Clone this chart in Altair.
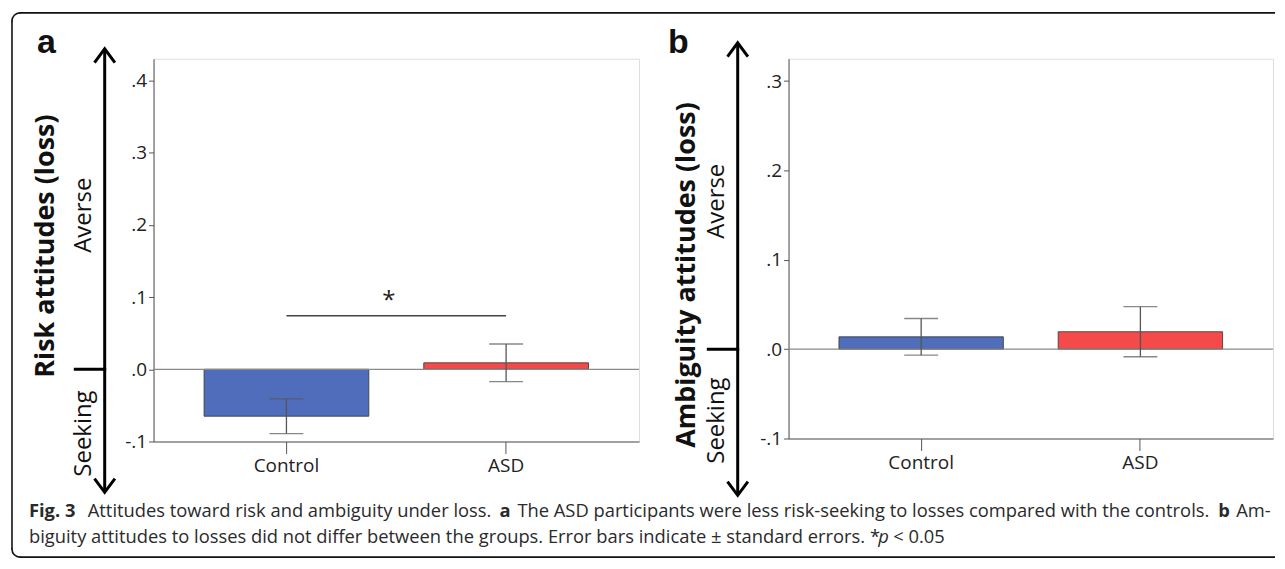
import math
import altair as alt
import pandas as pd

# ---------------- data ----------------
groups = ["Control", "ASD"]
bar_colors = ["#4F6DBA", "#F44A4A"]

risk_mean = [-0.065, 0.009]
risk_se = [0.024, 0.026]
amb_mean = [0.0138, 0.0195]
amb_se = [0.0205, 0.028]

risk_ticks = [-0.1, 0.0, 0.1, 0.2, 0.3, 0.4]
amb_ticks = [-0.1, 0.0, 0.1, 0.2, 0.3]
risk_domain = [-0.1, 0.43]
amb_domain = [-0.1, 0.325]

sig_pair = ["Control", "ASD"]
sig_y = 0.074
star_y = 0.094

y_titles = ["Risk attitudes (loss)", "Ambiguity attitudes (loss)"]
panel_letters = ["a", "b"]
averse_label = "Averse"
seeking_label = "Seeking"

caption_line1 = [
    ("Fig. 3", "bold", "normal"),
    ("Attitudes toward risk and ambiguity under loss.", "normal", "normal"),
    ("a", "bold", "normal"),
    ("The ASD participants were less risk-seeking to losses compared with the controls.", "normal", "normal"),
    ("b", "bold", "normal"),
    ("Am-", "normal", "normal"),
]
caption_line2 = [
    ("biguity attitudes to losses did not differ between the groups. Error bars indicate \u00b1 standard errors. *", "normal", "normal"),
    ("p", "normal", "italic"),
    ("< 0.05", "normal", "normal"),
]

# ---------------- layout (pixels, relative to panel a plot origin) ----------------
FONT = "Open Sans"
W_A, H_A = 487, 384
W_B, H_B = 486, 381
SPACING = 150
CAP_SIZE = 18.4
cap1_x = [-125, -66, 347, 365, 1068, 1086]
cap2_x = [-125, 727, 742]
cap1_y, cap2_y = 460, 486

one = pd.DataFrame({"k": [0]})

label_expr = ("datum.value < 0 ? '-' + replace(format(-datum.value, '.1f'), '0.', '.') : "
              "replace(format(datum.value, '.1f'), '0.', '.')")


def txt(x, y, text, size, weight="normal", style="normal", angle=0, align="left",
        baseline="alphabetic", font=FONT, color="#111"):
    return alt.Chart(one).mark_text(
        text=text, font=font, fontSize=size, fontWeight=weight, fontStyle=style,
        angle=angle, align=align, baseline=baseline, color=color
    ).encode(x=alt.value(x), y=alt.value(y))


def rule_px(x, x2, y, y2, width=3, color="black"):
    return alt.Chart(one).mark_rule(color=color, strokeWidth=width, strokeCap="butt").encode(
        x=alt.value(x), x2=alt.value(x2), y=alt.value(y), y2=alt.value(y2))


def chevron(x, y, up=True):
    shape = "M-1,1.35L0,0L1,1.35" if up else "M-1,-1.35L0,0L1,-1.35"
    return alt.Chart(one).mark_point(
        shape=shape, size=420, filled=False, stroke="black", strokeWidth=3,
        opacity=1, strokeJoin="miter"
    ).encode(x=alt.value(x), y=alt.value(y))


def panel(means, ses, ticks, domain, w, h, title, letter, geo, sig=False):
    df = pd.DataFrame({
        "group": groups,
        "mean": means,
        "lo": [m - s for m, s in zip(means, ses)],
        "hi": [m + s for m, s in zip(means, ses)],
        "zero": [0.0, 0.0],
    })
    base = alt.Chart(df)
    xenc = alt.X("group:N", sort=groups,
                 scale=alt.Scale(domain=groups, paddingInner=0.25, paddingOuter=0.23),
                 axis=alt.Axis(title=None, labelFont=FONT, labelFontSize=19, labelColor="#222",
                               labelAngle=0, tickSize=12, tickColor="#555", tickWidth=1,
                               domainColor="#555", labelPadding=3, grid=False))
    yscale = alt.Scale(domain=domain, nice=False, zero=False)
    yenc = alt.Y("mean:Q", scale=yscale,
                 axis=alt.Axis(title=None, values=ticks, labelExpr=label_expr, labelFont=FONT,
                               labelFontSize=19, labelColor="#222", tickSize=5, tickColor="#555",
                               domainColor="#555", labelPadding=2, grid=False))
    bars = base.mark_bar(stroke="#333", strokeWidth=0.8, opacity=1).encode(
        x=xenc, y=yenc, y2="zero:Q",
        color=alt.Color("group:N", scale=alt.Scale(domain=groups, range=bar_colors), legend=None))
    zero_line = alt.Chart(one).mark_rule(color="#8a8a8a", strokeWidth=1.2).encode(y=alt.datum(0))
    err = base.mark_rule(color="#555", strokeWidth=1.3).encode(
        x=alt.X("group:N", sort=groups), y=alt.Y("lo:Q"), y2="hi:Q")
    cap_lo = base.mark_tick(color="#555", size=34, thickness=1.3, orient="horizontal").encode(
        x=alt.X("group:N", sort=groups), y=alt.Y("lo:Q"))
    cap_hi = base.mark_tick(color="#555", size=34, thickness=1.3, orient="horizontal").encode(
        x=alt.X("group:N", sort=groups), y=alt.Y("hi:Q"))
    layers = [bars, zero_line, err, cap_lo, cap_hi]

    if sig:
        sdf = pd.DataFrame({"g1": [sig_pair[0]], "g2": [sig_pair[1]], "y": [sig_y]})
        sline = alt.Chart(sdf).mark_rule(color="#444", strokeWidth=1.5).encode(
            x=alt.X("g1:N", sort=groups), x2="g2:N", y=alt.Y("y:Q"))
        star = alt.Chart(one).mark_text(text="*", font=FONT, fontSize=24, color="#222",
                                        baseline="middle", align="center").encode(
            x=alt.value(geo["star_x"]), y=alt.datum(star_y))
        layers += [sline, star]

    ax = geo["arrow_x"]
    layers += [
        rule_px(ax, ax, geo["arrow_top"] + 1, geo["arrow_bot"] - 1),
        chevron(ax, geo["arrow_top"], up=True),
        chevron(ax, geo["arrow_bot"], up=False),
        alt.Chart(one).mark_rule(color="black", strokeWidth=3, strokeCap="butt").encode(
            x=alt.value(ax - 31), x2=alt.value(ax + 1.5), y=alt.datum(0)),
        txt(geo["title_x"], geo["title_y"], title, 27, weight="bold", angle=270,
            align="center", baseline="middle", color="#111"),
        txt(geo["lab_x"], geo["averse_y"], averse_label, 24, angle=270, align="center",
            baseline="middle", color="#111"),
        txt(geo["lab_x"], geo["seeking_y"], seeking_label, 24, angle=270, align="center",
            baseline="middle", color="#111"),
        txt(geo["letter_x"], -6, letter, 34, weight="bold", font="Liberation Sans", color="#111"),
    ]
    return alt.layer(*layers).properties(width=w, height=h)


geo_a = dict(star_x=236, arrow_x=-49, arrow_top=-10, arrow_bot=435, title_x=-108, title_y=188,
             lab_x=-70, averse_y=157, seeking_y=376, letter_x=-117)
geo_b = dict(arrow_x=-51, arrow_top=-16, arrow_bot=438, title_x=-102, title_y=217,
             lab_x=-72, averse_y=143, seeking_y=363, letter_x=-121)

pa = panel(risk_mean, risk_se, risk_ticks, risk_domain, W_A, H_A, y_titles[0], panel_letters[0],
           geo_a, sig=True)
pb = panel(amb_mean, amb_se, amb_ticks, amb_domain, W_B, H_B, y_titles[1], panel_letters[1], geo_b)

# border of the figure box and caption, attached to panel a
L, T, B, R, r = -142, -46, 500, 1125, 8
border = [
    rule_px(L + r, R, T, T, width=1.6, color="#111"),
    rule_px(L, L, T + r, B - r, width=1.6, color="#111"),
    rule_px(L + r, R, B, B, width=1.6, color="#111"),
    alt.Chart(one).mark_arc(radius=r, radius2=r - 0.01, theta=1.5 * math.pi, theta2=2 * math.pi,
                            stroke="#111", strokeWidth=1.6, fillOpacity=0).encode(
        x=alt.value(L + r), y=alt.value(T + r)),
    alt.Chart(one).mark_arc(radius=r, radius2=r - 0.01, theta=math.pi, theta2=1.5 * math.pi,
                            stroke="#111", strokeWidth=1.6, fillOpacity=0).encode(
        x=alt.value(L + r), y=alt.value(B - r)),
]
caption = []
for (t, wgt, sty), x in zip(caption_line1, cap1_x):
    caption.append(txt(x, cap1_y, t, CAP_SIZE, weight=wgt, style=sty, color="#2a2a2a"))
for (t, wgt, sty), x in zip(caption_line2, cap2_x):
    caption.append(txt(x, cap2_y, t, CAP_SIZE, weight=wgt, style=sty, color="#2a2a2a"))

pa = alt.layer(pa, *border, *caption)

chart = alt.hconcat(pa, pb, spacing=SPACING, bounds="flush").properties(
    padding={"left": 0, "top": 0, "right": 0, "bottom": 0}
).configure_view(stroke="#9a9a9a", strokeWidth=1.2).configure(background="white")

chart.save("out.html", embed_options={"renderer": "svg", "actions": False})
